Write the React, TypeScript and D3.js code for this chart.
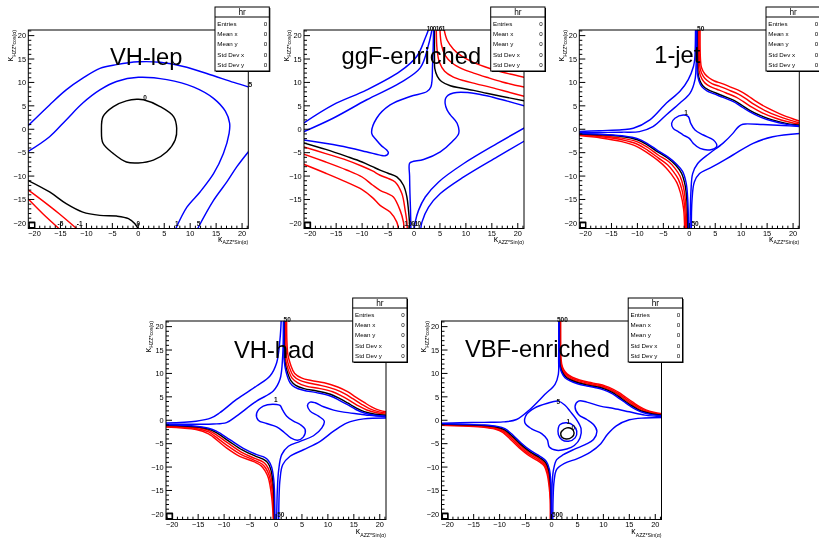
import React from "react";
import * as d3 from "d3";

type Pt = [number, number];
type Curve = { pts: Pt[]; level: number; closed?: boolean };
type Label = { text: string; x: number; y: number };

// ---------- axis setup ----------
const X_DOMAIN: [number, number] = [-21.2, 21.2];
const Y_DOMAIN: [number, number] = [-21.2, 21.2];
const majorTicks = [-20, -15, -10, -5, 0, 5, 10, 15, 20];
const minorTicks = d3.range(-21, 22).filter((v) => v % 5 !== 0);

const statsRows = ["Entries", "Mean x", "Mean y", "Std Dev x", "Std Dev y"];
const statsValues = [0, 0, 0, 0, 0];
const histName = "hr";

const panelTitles = ["VH-lep", "ggF-enriched", "1-jet", "VH-had", "VBF-enriched"];
const xTitleSymbol = "κ";
const xTitleSub = "AZZ*Sin(α)";
const yTitleSymbol = "κ";
const yTitleSub = "HZZ*cos(α)";

// ---------- VH-lep contours ----------
const vhLepBlue5Upper: Pt[] = [[-21.3, 0.7], [-17.1, 5.2], [-13.9, 8.4], [-10.7, 10.9], [-7.4, 13.0], [-4.2, 13.8], [0, 14.4], [4.2, 14.3], [8.7, 13.4], [13.2, 11.9], [18.4, 10.0], [21.3, 9.0]];
const vhLepBlue1: Pt[] = [[-21.3, -4.8], [-17.1, -1.6], [-13.9, 2.0], [-10.7, 5.6], [-7.4, 8.4], [-4.2, 10.2], [0, 11.1], [5.5, 10.6], [10.7, 9.0], [14.5, 6.6], [16.8, 3.8], [17.6, 1.3], [17.5, -0.9], [16.4, -5.2], [14.5, -9.5], [11.9, -13.4], [9.4, -16.6], [7.2, -21.3]];
const vhLepBlue5Lower: Pt[] = [[21.3, -4.7], [19.0, -8.0], [17.1, -11.2], [14.5, -15.2], [11.4, -21.3]];
const vhLepBlack0Loop: Pt[] = [[1.0, 6.3], [4.2, 4.85], [6.8, 2.7], [7.4, 0.2], [7.1, -2.3], [5.5, -4.8], [2.9, -6.6], [0, -7.2], [-2.3, -7.0], [-4.8, -5.2], [-6.8, -3.0], [-7.1, -0.2], [-6.8, 2.7], [-4.8, 4.85], [-2.3, 6.05], [-0.3, 6.4]];
const vhLepBlack0Corner: Pt[] = [[-21.3, -10.9], [-17.1, -13.4], [-13.9, -15.9], [-10.7, -17.7], [-7.4, -18.4], [-4.2, -18.55], [-1.9, -19.1], [-0.65, -20.2], [0, -21.3]];
const vhLepRedM1: Pt[] = [[-21.3, -12.9], [-18.4, -15.3], [-15.3, -18.0], [-11.8, -21.3]];
const vhLepRedM5: Pt[] = [[-21.3, -14.8], [-18.4, -18.05], [-15.2, -21.3]];

// ---------- ggF-enriched contours ----------
const ggfBlueA: Pt[] = [[-21.3, 1.3], [-15.6, 5.2], [-9.1, 8.4], [-2.7, 12.35], [0.56, 15.6], [2.17, 19.5], [2.81, 21.3]];
const ggfBlueB: Pt[] = [[-21.3, -0.55], [-15.6, 2.35], [-9.1, 6.3], [-2.7, 9.9], [1.2, 13.1], [2.81, 18.1], [3.47, 21.3]];
const ggfBlueC: Pt[] = [[3.78, 21.3], [3.58, 13.8], [3.27, 9.1], [2.5, 8.06], [-0.74, 7.0], [-4.6, 5.2], [-7.2, 2.35], [-8.15, -0.87], [-7.26, -2.31], [-6.2, -3.6], [-5.25, -4.45], [-4.94, -5.03], [-5.58, -5.67], [-6.54, -5.53], [-9.2, -4.81], [-14.4, -3.52], [-21.3, -2.3]];
const ggfBlueCLower: Pt[] = [[-0.6, -21.3], [-0.68, -17], [-0.78, -13.74], [-0.85, -10], [-0.87, -7.32], [-0.41, -6.96], [1.84, -6.46], [5.07, -4.82], [7.34, -2.67], [8.62, -0.87], [8.31, 1.28], [7.01, 3.06], [6.37, 4.13], [6.0, 5.5], [6.1, 6.6], [6.6, 7.3], [7.6, 7.75], [9.0, 7.9], [12, 7.6], [15, 6.9], [18, 6.0], [21.3, 5.0]];
const ggfBlueALower: Pt[] = [[21.3, 0.3], [16.05, -3.02], [9.59, -7.32], [4.75, -11.25], [2.17, -14.47], [0.87, -17.33], [0.23, -19.84], [0.05, -21.3]];
const ggfBlueBLower: Pt[] = [[21.3, -2.5], [16.05, -5.89], [9.59, -10.18], [5.07, -13.74], [2.81, -16.62], [1.53, -19.84], [1.3, -21.3]];
const ggfBlackLower: Pt[] = [[-21.3, -2.88], [-17, -4.3], [-13, -5.8], [-10, -7.0], [-8, -8.0], [-6.54, -8.74], [-5, -9.4], [-3.31, -10.18], [-2.03, -11.96], [-1.37, -14.47], [-1.06, -17.33], [-0.87, -19.84], [-0.8, -21.3]];
const ggfRed1Lower: Pt[] = [[-21.3, -3.74], [-17, -5.2], [-13, -6.6], [-10, -7.9], [-8, -8.9], [-6.54, -9.82], [-5, -10.5], [-3.64, -11.25], [-2.34, -13.74], [-1.7, -17.33], [-1.37, -19.84], [-1.3, -21.3]];
const ggfRed2Lower: Pt[] = [[-21.3, -5.31], [-17, -7.0], [-13, -8.7], [-10, -10.2], [-8, -11.9], [-6.54, -13.04], [-5, -13.8], [-3.97, -14.47], [-2.67, -17.33], [-2.03, -19.84], [-1.9, -21.3]];
const ggfRed3Lower: Pt[] = [[-21.3, -7.46], [-17, -9.4], [-13, -11.3], [-10, -12.9], [-8, -14.6], [-6.54, -16.26], [-4.61, -17.69], [-3.31, -19.84], [-3.0, -21.3]];
const ggfBlackUpper: Pt[] = [[3.95, 21.3], [3.95, 15], [4.0, 13.0], [4.5, 11.3], [5.3, 10.2], [7, 9.3], [9, 8.8], [11.5, 8.3], [14, 7.7], [17, 7.0], [21.3, 6.06]];
const ggfRed1Upper: Pt[] = [[4.3, 21.3], [4.45, 17], [4.9, 14.3], [5.9, 12.4], [7.5, 11.2], [9.5, 10.4], [12, 9.7], [15, 8.9], [18, 8.0], [21.3, 7.0]];
const ggfRed2Upper: Pt[] = [[5.0, 21.3], [5.3, 18], [6.0, 15.8], [7.4, 14.1], [9.3, 12.9], [11.5, 12.0], [14, 11.1], [17, 10.1], [21.3, 9.0]];
const ggfRed3Upper: Pt[] = [[5.8, 21.3], [6.4, 19], [7.6, 17.1], [9.2, 15.6], [11.2, 14.4], [13.5, 13.4], [16, 12.5], [18.5, 11.8], [21.3, 11.1]];

// ---------- 1-jet contours ----------
const jetBlueULOuter: Pt[] = [[-21.3, -0.5], [-17.3, -0.3], [-13, -0.1], [-10.8, 0.2], [-7.6, 2.0], [-4.4, 5.6], [-1.8, 8.1], [-0.2, 10.6], [0.8, 13.4], [1.05, 15], [1.15, 17.5], [1.2, 21.3]];
const jetBlueULInner: Pt[] = [[-21.3, -0.75], [-17.3, -0.7], [-13, -0.62], [-9.6, -0.5], [-7.0, 0.55], [-4.4, 3.1], [-1.8, 5.6], [0.15, 7.7], [1.1, 10.6], [1.3, 13.4], [1.35, 15], [1.38, 21.3]];
const jetBlueURBundle: Pt[] = [[1.45, 21.3], [1.47, 15], [1.55, 12.0], [1.9, 10.2], [2.4, 9.1], [3.4, 8.2], [4.65, 7.6], [6.5, 6.8], [8.5, 5.9], [9.8, 5.0], [11.5, 3.8], [13.5, 2.7], [16, 1.75], [18.5, 1.1], [21.3, 0.72]];
const jetBlackURBundle: Pt[] = [[1.55, 21.3], [1.58, 15], [1.67, 12.1], [2.05, 10.35], [2.6, 9.3], [3.6, 8.45], [4.85, 7.85], [6.65, 7.05], [8.6, 6.15], [9.95, 5.25], [11.65, 4.05], [13.65, 2.95], [16.15, 1.95], [18.65, 1.25], [21.3, 0.85]];
const jetRed1URBundle: Pt[] = [[1.72, 21.3], [1.76, 15], [1.9, 12.4], [2.4, 10.8], [3.05, 9.85], [4.05, 9.1], [5.3, 8.55], [7.1, 7.75], [9.0, 6.85], [10.35, 5.95], [12.05, 4.7], [14.05, 3.5], [16.55, 2.4], [19.0, 1.6], [21.3, 1.05]];
const jetRed2URBundle: Pt[] = [[1.9, 21.3], [1.95, 15], [2.12, 12.8], [2.7, 11.3], [3.45, 10.4], [4.45, 9.7], [5.75, 9.2], [7.55, 8.4], [9.45, 7.5], [10.8, 6.6], [12.5, 5.3], [14.5, 4.05], [17.0, 2.85], [19.4, 1.95], [21.3, 1.35]];
const jetRed3URBundle: Pt[] = [[2.08, 21.3], [2.15, 15], [2.35, 13.2], [3.0, 11.8], [3.85, 10.95], [4.85, 10.3], [6.2, 9.8], [8.0, 9.0], [9.9, 8.1], [11.25, 7.2], [12.95, 5.9], [14.95, 4.6], [17.45, 3.3], [19.8, 2.3], [21.3, 1.7]];
const jetBlueLLBundle: Pt[] = [[-21.3, -0.9], [-17, -1.05], [-13, -1.4], [-10, -2.0], [-8, -3.1], [-6, -4.6], [-4, -6.0], [-2.5, -7.4], [-1.3, -9.0], [-0.6, -11.5], [-0.3, -15], [-0.15, -21.3]];
const jetBlackLLBundle: Pt[] = [[-21.3, -1.0], [-17, -1.2], [-13, -1.55], [-10, -2.25], [-8, -3.4], [-6, -4.9], [-4, -6.3], [-2.6, -7.7], [-1.5, -9.4], [-0.8, -12], [-0.45, -15.5], [-0.3, -21.3]];
const jetRed1LLBundle: Pt[] = [[-21.3, -1.1], [-17, -1.4], [-13, -1.9], [-10, -2.7], [-8, -3.9], [-6, -5.5], [-4, -6.9], [-2.8, -8.3], [-1.8, -10], [-1.1, -12.5], [-0.7, -16], [-0.5, -21.3]];
const jetRed2LLBundle: Pt[] = [[-21.3, -1.2], [-17, -1.6], [-13, -2.25], [-10, -3.2], [-8, -4.5], [-6, -6.1], [-4.2, -7.6], [-3.1, -9.0], [-2.1, -10.7], [-1.4, -13], [-0.9, -16.5], [-0.7, -21.3]];
const jetRed3LLBundle: Pt[] = [[-21.3, -1.35], [-17, -1.85], [-13, -2.65], [-10, -3.75], [-8, -5.1], [-6, -6.7], [-4.5, -8.2], [-3.4, -9.7], [-2.4, -11.4], [-1.7, -13.6], [-1.1, -17], [-0.9, -21.3]];
const jetBlueLRInner: Pt[] = [[21.3, 0.6], [18, 0.8], [14.2, 1.0], [10.8, 1.13], [10.0, 0.95], [9.3, 0.35], [8.4, -0.88], [6.46, -3.02], [3.88, -5.17], [1.62, -7.33], [0.65, -9.47], [0.33, -13.0], [0.2, -17.3], [0.14, -21.3]];
const jetBlueLROuter: Pt[] = [[21.3, -0.9], [16.1, -1.6], [12.3, -3.0], [8.4, -5.5], [4.5, -8.0], [1.94, -9.5], [0.97, -11.25], [0.52, -15.2], [0.39, -21.3]];
const jetBlue1Loop: Pt[] = [[-2.77, 2.35], [-1.16, 3.06], [-0.19, 2.7], [0.27, 1.27], [1.1, -0.16], [2.71, -1.23], [4.65, -2.31], [5.3, -3.59], [4.34, -4.31], [2.07, -4.1], [0.77, -3.02], [0, -1.95], [-1.16, -1.23], [-2.13, -0.52], [-3.1, 0.2], [-3.41, 1.27]];

// ---------- VH-had contours ----------
const vhhBlueULOuter: Pt[] = [[-21.3, -0.6], [-15.4, -0.2], [-12.5, 0.5], [-10.85, 1.6], [-7.6, 4.45], [-3.74, 7.31], [-1.16, 9.46], [0.13, 12.3], [0.77, 17.3], [1.0, 21.3]];
const vhhBlueULInner: Pt[] = [[-21.3, -0.85], [-15, -0.85], [-12.1, -0.8], [-9.55, -0.5], [-7.62, 0.88], [-3.74, 4.1], [-0.52, 6.24], [0.77, 8.74], [1.29, 13.75], [1.42, 21.3]];
const vhhBlueURBundle: Pt[] = [[1.5, 21.3], [1.52, 15], [1.6, 12.5], [1.95, 10.3], [2.71, 8.0], [3.6, 7.1], [5.29, 6.4], [7.8, 5.9], [10.46, 5.17], [12.3, 4.2], [13.69, 3.38], [15.4, 2.3], [16.9, 1.59], [19, 1.05], [21.3, 0.85]];
const vhhBlackURBundle: Pt[] = [[1.58, 21.3], [1.6, 15], [1.7, 12.6], [2.1, 10.6], [2.9, 8.4], [3.8, 7.45], [5.4, 6.75], [7.9, 6.25], [10.5, 5.55], [12.4, 4.55], [13.8, 3.7], [15.5, 2.6], [17.0, 1.85], [19.1, 1.3], [21.3, 1.05]];
const vhhRed1URBundle: Pt[] = [[1.7, 21.3], [1.75, 16], [1.85, 13], [2.3, 11], [3.1, 9.0], [4.2, 8.0], [5.8, 7.3], [8.3, 6.8], [10.9, 6.1], [12.8, 5.1], [14.3, 4.15], [16, 3.0], [17.5, 2.2], [19.4, 1.6], [21.3, 1.3]];
const vhhRed2URBundle: Pt[] = [[1.85, 21.3], [1.9, 16.5], [2.05, 13.5], [2.55, 11.4], [3.35, 9.5], [4.6, 8.5], [6.3, 7.95], [8.8, 7.4], [11.4, 6.6], [13.3, 5.65], [14.8, 4.6], [16.5, 3.4], [18, 2.5], [19.7, 1.85], [21.3, 1.55]];
const vhhRed3URBundle: Pt[] = [[2.05, 21.3], [2.1, 17], [2.3, 14], [2.8, 11.9], [3.6, 10.0], [5.0, 9.0], [6.8, 8.5], [9.3, 8.0], [11.9, 7.1], [13.8, 6.1], [15.3, 5.0], [17, 3.8], [18.5, 2.8], [20, 2.1], [21.3, 1.8]];
const vhhBlueLLBundle: Pt[] = [[-21.3, -0.95], [-15.4, -1.27], [-13, -1.7], [-11.5, -2.34], [-8.9, -4.15], [-6.3, -6.0], [-3.74, -7.34], [-2.2, -7.95], [-1.48, -8.6], [-0.85, -10.0], [-0.45, -12.5], [-0.3, -15], [-0.2, -21.3]];
const vhhBlackLLBundle: Pt[] = [[-21.3, -1.05], [-15.4, -1.4], [-13, -1.9], [-11.6, -2.6], [-9.1, -4.45], [-6.5, -6.35], [-3.9, -7.7], [-2.4, -8.35], [-1.65, -9.0], [-1.0, -10.5], [-0.6, -13], [-0.4, -16], [-0.3, -21.3]];
const vhhRed1LLBundle: Pt[] = [[-21.3, -1.15], [-15.4, -1.55], [-13, -2.15], [-11.7, -2.95], [-9.3, -4.85], [-6.7, -6.8], [-4.1, -8.15], [-2.6, -8.85], [-1.85, -9.6], [-1.2, -11.1], [-0.75, -13.5], [-0.5, -16.5], [-0.38, -21.3]];
const vhhRed2LLBundle: Pt[] = [[-21.3, -1.28], [-15.4, -1.75], [-13, -2.5], [-11.8, -3.4], [-9.45, -5.35], [-6.85, -7.25], [-4.25, -8.5], [-2.7, -9.35], [-2.0, -10.2], [-1.35, -11.7], [-0.88, -14], [-0.6, -17], [-0.45, -21.3]];
const vhhRed3LLBundle: Pt[] = [[-21.3, -1.42], [-15.4, -1.99], [-13, -2.9], [-12.1, -3.6], [-9.55, -5.9], [-7.0, -7.7], [-4.4, -8.78], [-2.9, -9.7], [-2.1, -10.8], [-1.48, -12.3], [-0.84, -16.3], [-0.52, -21.3]];
const vhhBlueLRInner: Pt[] = [[21.3, 0.7], [18, 1.05], [16.27, 1.3], [13.04, 1.73], [11.1, 2.16], [9.17, 2.88], [7.55, 3.74], [6.58, 3.88], [6.07, 3.17], [6.58, 1.95], [8.2, 0.88], [9.3, -0.2], [8.84, -1.63], [7.23, -3.31], [4.65, -4.5], [2.39, -5.55], [1.1, -7.35], [0.52, -10.6], [0.26, -14.9], [0.13, -21.3]];
const vhhBlueLROuter: Pt[] = [[21.3, 0.5], [16.9, 0.3], [13.7, -0.55], [11.1, -2.34], [8.52, -4.5], [5.29, -6.3], [2.71, -7.7], [1.29, -9.5], [0.77, -12.7], [0.6, -16], [0.52, -21.3]];
const vhhBlue1Loop: Pt[] = [[0.13, 3.38], [-2.45, 3.02], [-3.74, 1.45], [-3.42, 0.02], [-1.81, -0.7], [0.13, -1.41], [1.55, -2.56], [2.84, -3.77], [4.13, -4.28], [5.29, -3.56], [5.62, -1.99], [4.65, -0.91], [3.36, -0.2], [2.07, 0.88], [1.29, 2.16], [0.77, 3.17]];

// ---------- VBF-enriched contours ----------
const vbfBlueUL: Pt[] = [[-21.3, -0.65], [-17.7, -0.55], [-13, -0.45], [-9.33, -0.35], [-6.74, 0.16], [-4.16, 2.31], [-1.26, 5.53], [0.68, 7.67], [1.32, 9.82], [1.38, 13.04], [1.4, 17], [1.4, 21.3]];
const vbfBlueURBundle: Pt[] = [[1.45, 21.3], [1.46, 16], [1.48, 13.75], [1.6, 11.5], [1.97, 10.18], [2.6, 9.1], [3.58, 8.4], [5.0, 7.8], [6.81, 7.31], [8.5, 6.95], [10.04, 6.5], [11.5, 5.8], [12.62, 5.0], [13.9, 4.0], [15.2, 3.0], [16.5, 2.15], [17.79, 1.59], [19.3, 1.2], [21.3, 0.95]];
const vbfBlackURBundle: Pt[] = [[1.52, 21.3], [1.53, 16], [1.55, 13.8], [1.68, 11.6], [2.05, 10.35], [2.7, 9.3], [3.68, 8.6], [5.1, 8.0], [6.9, 7.5], [8.6, 7.15], [10.15, 6.7], [11.6, 6.0], [12.75, 5.2], [14.0, 4.2], [15.3, 3.2], [16.6, 2.33], [17.9, 1.75], [19.4, 1.33], [21.3, 1.05]];
const vbfRed1URBundle: Pt[] = [[1.6, 21.3], [1.61, 16], [1.63, 13.9], [1.77, 11.75], [2.15, 10.5], [2.8, 9.5], [3.8, 8.8], [5.2, 8.2], [7.0, 7.7], [8.7, 7.35], [10.25, 6.9], [11.7, 6.2], [12.9, 5.4], [14.15, 4.4], [15.45, 3.4], [16.75, 2.5], [18.0, 1.9], [19.5, 1.45], [21.3, 1.15]];
const vbfRed2URBundle: Pt[] = [[1.68, 21.3], [1.69, 16], [1.71, 14], [1.86, 11.9], [2.25, 10.65], [2.9, 9.7], [3.9, 9.0], [5.3, 8.4], [7.1, 7.9], [8.8, 7.55], [10.35, 7.1], [11.8, 6.4], [13.05, 5.6], [14.3, 4.6], [15.6, 3.6], [16.9, 2.68], [18.1, 2.05], [19.6, 1.58], [21.3, 1.28]];
const vbfRed3URBundle: Pt[] = [[1.77, 21.3], [1.78, 16], [1.8, 14.1], [1.96, 12.05], [2.35, 10.8], [3.0, 9.9], [4.0, 9.2], [5.4, 8.6], [7.2, 8.1], [8.9, 7.75], [10.45, 7.3], [11.9, 6.6], [13.2, 5.8], [14.45, 4.8], [15.75, 3.8], [17.05, 2.85], [18.2, 2.2], [19.7, 1.7], [21.3, 1.4]];
const vbfBlueLLBundle: Pt[] = [[-21.3, -0.75], [-17, -0.85], [-13, -1.0], [-10.5, -1.3], [-9.0, -1.8], [-7.4, -3.2], [-5.8, -4.9], [-4.0, -6.5], [-2.2, -7.7], [-1.0, -8.8], [-0.4, -10.5], [-0.15, -13], [-0.05, -17], [-0.02, -21.3]];
const vbfBlackLLBundle: Pt[] = [[-21.3, -0.82], [-17, -0.95], [-13, -1.12], [-10.6, -1.45], [-9.1, -2.0], [-7.5, -3.45], [-5.9, -5.15], [-4.1, -6.75], [-2.3, -7.95], [-1.1, -9.05], [-0.5, -10.8], [-0.22, -13.3], [-0.1, -17], [-0.08, -21.3]];
const vbfRed1LLBundle: Pt[] = [[-21.3, -0.9], [-17, -1.05], [-13, -1.25], [-10.7, -1.6], [-9.2, -2.2], [-7.6, -3.7], [-6.0, -5.4], [-4.2, -7.0], [-2.4, -8.2], [-1.2, -9.3], [-0.6, -11.1], [-0.3, -13.6], [-0.15, -17], [-0.13, -21.3]];
const vbfRed2LLBundle: Pt[] = [[-21.3, -0.98], [-17, -1.15], [-13, -1.38], [-10.8, -1.75], [-9.3, -2.4], [-7.7, -3.95], [-6.1, -5.65], [-4.3, -7.25], [-2.5, -8.45], [-1.3, -9.55], [-0.7, -11.4], [-0.38, -13.9], [-0.2, -17], [-0.18, -21.3]];
const vbfRed3LLBundle: Pt[] = [[-21.3, -1.06], [-17, -1.25], [-13, -1.5], [-10.9, -1.9], [-9.4, -2.6], [-7.8, -4.2], [-6.2, -5.9], [-4.4, -7.5], [-2.6, -8.7], [-1.4, -9.8], [-0.8, -11.7], [-0.46, -14.2], [-0.25, -17], [-0.23, -21.3]];
const vbfBlueLobe: Pt[] = [[21.3, 0.75], [18, 1.1], [15, 1.8], [12, 2.5], [9.39, 3.02], [6.81, 3.88], [5.2, 4.09], [4.55, 3.02], [5.2, 1.23], [6.81, 0.16], [8.1, -0.91], [8.75, -2.34], [8.1, -4.13], [6.49, -5.2], [4.55, -6.13], [2.29, -7.35], [1.0, -8.42], [0.4, -10.5], [0.15, -13], [0.05, -17], [0.0, -21.3]];
const vbfBlueLROuter: Pt[] = [[21.3, 0.6], [18, 0.5], [15, 0.1], [12.5, -1.2], [10.8, -3.0], [9.5, -5.0], [7.5, -6.8], [5, -8.2], [2.5, -9.2], [1.0, -10.5], [0.5, -13], [0.3, -17], [0.25, -21.3]];
const vbfBlue5Loop: Pt[] = [[-5.13, -0.55], [-4.81, 1.23], [-3.2, 2.66], [-0.94, 3.59], [1.32, 4.09], [2.6, 3.2], [3.6, 1.9], [4.8, 0.2], [5.7, -1.8], [5.5, -3.8], [4.4, -5.4], [2.94, -6.13], [1.0, -6.42], [-0.42, -5.7], [-0.81, -4.13], [-1.9, -2.84], [-3.84, -1.84]];
const vbfBlue1Loop: Pt[] = [[1.65, -0.91], [2.94, -0.55], [4.23, -1.13], [4.87, -2.34], [4.55, -3.77], [3.26, -4.49], [1.97, -4.13], [1.32, -3.06], [1.32, -1.63]];
const vbfBlack0Loop: Pt[] = [[1.97, -2.34], [2.94, -1.63], [3.91, -1.84], [4.36, -2.7], [3.91, -3.63], [2.81, -3.99], [1.97, -3.56], [1.78, -2.84]];

// ---------- per-panel contour sets ----------
const vhLepCurves: Curve[] = [
  { pts: vhLepBlue5Upper, level: 5 },
  { pts: vhLepBlue1, level: 1 },
  { pts: vhLepBlue5Lower, level: 5 },
  { pts: vhLepBlack0Loop, level: 0, closed: true },
  { pts: vhLepBlack0Corner, level: 0 },
  { pts: vhLepRedM1, level: -1 },
  { pts: vhLepRedM5, level: -5 },
];
const ggfCurves: Curve[] = [
  { pts: ggfRed3Lower, level: -10 }, { pts: ggfRed2Lower, level: -5 }, { pts: ggfRed1Lower, level: -1 },
  { pts: ggfRed3Upper, level: -10 }, { pts: ggfRed2Upper, level: -5 }, { pts: ggfRed1Upper, level: -1 },
  { pts: ggfBlackLower, level: 0 }, { pts: ggfBlackUpper, level: 0 },
  { pts: ggfBlueA, level: 10 }, { pts: ggfBlueB, level: 5 }, { pts: ggfBlueC, level: 1 },
  { pts: ggfBlueALower, level: 10 }, { pts: ggfBlueBLower, level: 5 }, { pts: ggfBlueCLower, level: 1 },
];
const jetCurves: Curve[] = [
  { pts: jetRed3URBundle, level: -10 }, { pts: jetRed2URBundle, level: -5 }, { pts: jetRed1URBundle, level: -1 },
  { pts: jetRed3LLBundle, level: -10 }, { pts: jetRed2LLBundle, level: -5 }, { pts: jetRed1LLBundle, level: -1 },
  { pts: jetBlackURBundle, level: 0 }, { pts: jetBlackLLBundle, level: 0 },
  { pts: jetBlueURBundle, level: 1 }, { pts: jetBlueLLBundle, level: 1 },
  { pts: jetBlueULOuter, level: 10 }, { pts: jetBlueULInner, level: 5 },
  { pts: jetBlueLROuter, level: 10 }, { pts: jetBlueLRInner, level: 5 },
  { pts: jetBlue1Loop, level: 1, closed: true },
];
const vhhCurves: Curve[] = [
  { pts: vhhRed3URBundle, level: -10 }, { pts: vhhRed2URBundle, level: -5 }, { pts: vhhRed1URBundle, level: -1 },
  { pts: vhhRed3LLBundle, level: -10 }, { pts: vhhRed2LLBundle, level: -5 }, { pts: vhhRed1LLBundle, level: -1 },
  { pts: vhhBlackURBundle, level: 0 }, { pts: vhhBlackLLBundle, level: 0 },
  { pts: vhhBlueURBundle, level: 1 }, { pts: vhhBlueLLBundle, level: 1 },
  { pts: vhhBlueULOuter, level: 10 }, { pts: vhhBlueULInner, level: 5 },
  { pts: vhhBlueLROuter, level: 10 }, { pts: vhhBlueLRInner, level: 5 },
  { pts: vhhBlue1Loop, level: 1, closed: true },
];
const vbfCurves: Curve[] = [
  { pts: vbfRed3URBundle, level: -10 }, { pts: vbfRed2URBundle, level: -5 }, { pts: vbfRed1URBundle, level: -1 },
  { pts: vbfRed3LLBundle, level: -10 }, { pts: vbfRed2LLBundle, level: -5 }, { pts: vbfRed1LLBundle, level: -1 },
  { pts: vbfBlackURBundle, level: 0 }, { pts: vbfBlackLLBundle, level: 0 },
  { pts: vbfBlueURBundle, level: 1 }, { pts: vbfBlueLLBundle, level: 1 },
  { pts: vbfBlueUL, level: 10 }, { pts: vbfBlueLROuter, level: 10 }, { pts: vbfBlueLobe, level: 5 },
  { pts: vbfBlue5Loop, level: 5, closed: true },
  { pts: vbfBlue1Loop, level: 1, closed: true },
  { pts: vbfBlack0Loop, level: 0, closed: true },
];

// ---------- contour level labels (clustered ends are drawn as one string) ----------
const vhLepLabels: Label[] = [
  { text: "5", x: 21.6, y: 9.6 }, { text: "0", x: 1.3, y: 6.7 },
  { text: "-5", x: -15.0, y: -20.1 }, { text: "-1", x: -11.3, y: -20.1 },
  { text: "0", x: 0, y: -20.1 }, { text: "1", x: 7.4, y: -20.1 }, { text: "5", x: 11.6, y: -20.1 },
];
const ggfLabels: Label[] = [
  { text: "100161", x: 4.2, y: 21.55 },
  { text: "1.0010", x: -0.3, y: -20.1 },
];
const jetLabels: Label[] = [
  { text: "50", x: 2.2, y: 21.55 }, { text: "50", x: 1.1, y: -20.1 }, { text: "1", x: -0.64, y: 3.55 },
];
const vhhLabels: Label[] = [
  { text: "50", x: 2.16, y: 21.55 }, { text: "50", x: 0.93, y: -20.1 }, { text: "1", x: -0.06, y: 4.3 },
];
const vbfLabels: Label[] = [
  { text: "500", x: 2.1, y: 21.55 }, { text: "500", x: 1.16, y: -20.1 },
  { text: "5", x: 1.31, y: 3.96 }, { text: "1", x: 3.24, y: -0.3 }, { text: "0", x: 4.2, y: -1.7 },
];

const panelCurves = [vhLepCurves, ggfCurves, jetCurves, vhhCurves, vbfCurves];
const panelLabels = [vhLepLabels, ggfLabels, jetLabels, vhhLabels, vbfLabels];

// ---------- layout ----------
const W = 819;
const H = 539;
const FRAME_W = 220;
const FRAME_H = 198.5;
const frameOrigins: [number, number][] = [[28.3, 30], [304, 30], [579.3, 30], [166, 321], [441.5, 321]];
const titleOffsets: [number, number][] = [[81.7, 35], [37.5, 34.3], [75, 33.3], [68, 37], [23.5, 35.5]];
const xTitleDrop = [13, 13, 13, 14.6, 14.6];
const SUB_SIZE = 5.2;
const SYM_SIZE = 8.5;
const X_SUB_W = 25.8; // rendered width of the x subscript at SUB_SIZE
const Y_SUB_W = 26.7; // rendered width of the y subscript at SUB_SIZE
const FONT = "'Liberation Sans', Arial, Helvetica, sans-serif";

const levelColor = (lv: number) => (lv < 0 ? "#ff0000" : lv === 0 ? "#000000" : "#0000ff");
const fmt = (v: number) => (v < 0 ? "\u2212" + Math.abs(v) : String(v));

function Panel({ idx }: { idx: number }) {
  const [fx, fy] = frameOrigins[idx];
  const x = d3.scaleLinear().domain(X_DOMAIN).range([fx, fx + FRAME_W]);
  const y = d3.scaleLinear().domain(Y_DOMAIN).range([fy + FRAME_H, fy]);
  const openLine = d3.line<Pt>().x((d) => x(d[0])).y((d) => y(d[1])).curve(d3.curveCatmullRom.alpha(0.5));
  const closedLine = d3.line<Pt>().x((d) => x(d[0])).y((d) => y(d[1])).curve(d3.curveCatmullRomClosed.alpha(0.5));
  const bottom = fy + FRAME_H;
  const right = fx + FRAME_W;
  const clipId = `frame-clip-${idx}`;
  const bx = fx + 186.7;
  const by = fy - 23;
  const bw = 54.3;
  const bh = 64;
  const [tx, ty] = titleOffsets[idx];
  const xtBase = bottom + xTitleDrop[idx];

  return (
    <g>
      <defs>
        <clipPath id={clipId}>
          <rect x={fx} y={fy} width={FRAME_W} height={FRAME_H} />
        </clipPath>
      </defs>

      {/* contour lines */}
      <g clipPath={`url(#${clipId})`} fill="none" strokeWidth={1.45} strokeLinejoin="round">
        {panelCurves[idx].map((c, i) => (
          <path key={i} d={(c.closed ? closedLine : openLine)(c.pts) || ""} stroke={levelColor(c.level)} />
        ))}
        <rect x={fx + 0.8} y={bottom - 6.2} width={5.6} height={5.4} fill="none" stroke="#000" strokeWidth={1.5} />
      </g>

      {/* frame */}
      <rect x={fx} y={fy} width={FRAME_W} height={FRAME_H} fill="none" stroke="#000" strokeWidth={1} />

      {/* x axis */}
      {majorTicks.map((t) => (
        <line key={"xM" + t} x1={x(t)} x2={x(t)} y1={bottom} y2={bottom - 5.5} stroke="#000" strokeWidth={1} />
      ))}
      {minorTicks.map((t) => (
        <line key={"xm" + t} x1={x(t)} x2={x(t)} y1={bottom} y2={bottom - 2.8} stroke="#000" strokeWidth={1} />
      ))}
      {majorTicks.map((t) => (
        <text key={"xl" + t} x={x(t)} y={bottom + 7.6} textAnchor="middle" fontSize={7.4} fontFamily={FONT} fill="#000">
          {fmt(t)}
        </text>
      ))}

      {/* y axis */}
      {majorTicks.map((t) => (
        <line key={"yM" + t} x1={fx} x2={fx + 6} y1={y(t)} y2={y(t)} stroke="#000" strokeWidth={1} />
      ))}
      {minorTicks.map((t) => (
        <line key={"ym" + t} x1={fx} x2={fx + 3} y1={y(t)} y2={y(t)} stroke="#000" strokeWidth={1} />
      ))}
      {majorTicks.map((t) => (
        <text key={"yl" + t} x={fx - 2.3} y={y(t) + 2.7} textAnchor="end" fontSize={7.4} fontFamily={FONT} fill="#000">
          {fmt(t)}
        </text>
      ))}

      {/* axis titles: symbol and subscript as separate runs */}
      <text x={right - X_SUB_W - 0.3} y={xtBase} textAnchor="end" fontSize={SYM_SIZE} fontFamily={FONT} fill="#000">
        {xTitleSymbol}
      </text>
      <text x={right} y={xtBase + 2.8} textAnchor="end" fontSize={SUB_SIZE} fontFamily={FONT} fill="#000">
        {xTitleSub}
      </text>
      <g transform={`translate(${fx - 15.3},${fy}) rotate(-90)`}>
        <text x={-Y_SUB_W - 0.3} y={0} textAnchor="end" fontSize={SYM_SIZE} fontFamily={FONT} fill="#000">
          {yTitleSymbol}
        </text>
        <text x={0} y={2.6} textAnchor="end" fontSize={SUB_SIZE} fontFamily={FONT} fill="#000">
          {yTitleSub}
        </text>
      </g>

      {/* contour level labels */}
      {panelLabels[idx].map((l, i) => (
        <text key={"lab" + i} x={x(l.x)} y={y(l.y) + 2.2} textAnchor="middle" fontSize={6.5} fontWeight="bold"
          fontFamily={FONT} fill="#111" letterSpacing={l.text.length > 3 ? -0.6 : 0}>
          {l.text}
        </text>
      ))}

      {/* category title */}
      <text x={fx + tx} y={fy + ty} fontSize={23.7} fontFamily={FONT} fill="#000">
        {panelTitles[idx]}
      </text>

      {/* statistics box */}
      <rect x={bx + 1} y={by + 1} width={bw} height={bh} fill="#000" />
      <rect x={bx} y={by} width={bw} height={bh} fill="#fff" stroke="#000" strokeWidth={1} />
      <line x1={bx} x2={bx + bw} y1={by + 10} y2={by + 10} stroke="#000" strokeWidth={1} />
      <text x={bx + bw / 2} y={by + 8.4} textAnchor="middle" fontSize={8.3} fontFamily={FONT} fill="#000">
        {histName}
      </text>
      {statsRows.map((r, i) => (
        <g key={r}>
          <text x={bx + 2.3} y={by + 18.8 + i * 10.3} fontSize={6.2} fontFamily={FONT} fill="#000">
            {r}
          </text>
          <text x={bx + bw - 2.2} y={by + 18.8 + i * 10.3} textAnchor="end" fontSize={6.2} fontFamily={FONT} fill="#000">
            {statsValues[i]}
          </text>
        </g>
      ))}
    </g>
  );
}

export default function App() {
  return (
    <svg width={W} height={H} xmlns="http://www.w3.org/2000/svg"
      style={{ position: "absolute", left: 0, top: 0, willChange: "transform" }}>
      <rect x={0} y={0} width={W} height={H} fill="#fff" />
      {panelTitles.map((_, i) => (
        <Panel key={i} idx={i} />
      ))}
    </svg>
  );
}
